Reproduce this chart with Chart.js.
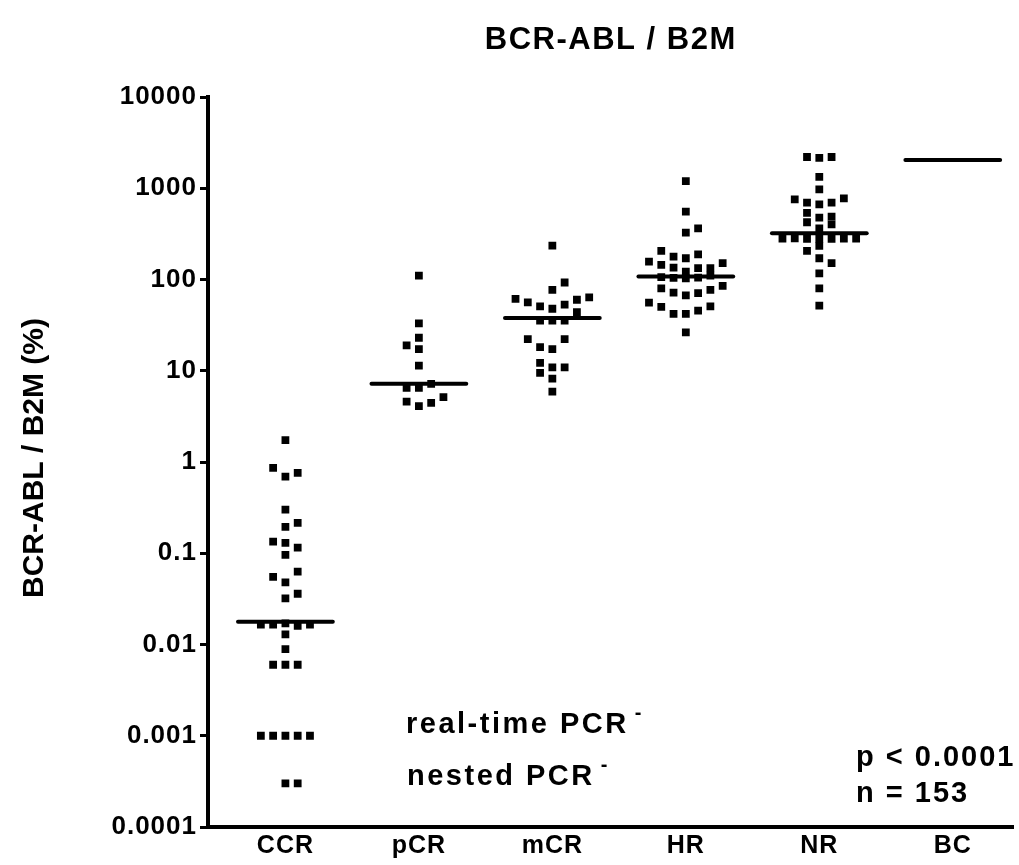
<!DOCTYPE html>
<html>
<head>
<meta charset="utf-8">
<script src="https://cdn.jsdelivr.net/npm/chart.js@4.4.1/dist/chart.umd.min.js"></script>
<style>
  html, body { margin: 0; padding: 0; background: #fff; }
</style>
</head>
<body>
<canvas id="myChart" width="1019" height="865"></canvas>
<script>
// categorias y ticks
const categories = ['CCR', 'pCR', 'mCR', 'HR', 'NR', 'BC'];
const yTicks = [0.0001, 0.001, 0.01, 0.1, 1, 10, 100, 1000, 10000];
const yTickLabels = ['0.0001', '0.001', '0.01', '0.1', '1', '10', '100', '1000', '10000'];

// valores (%), slot = columna del punto en su fila
const ccrValues = [1.74, 0.86, 0.69, 0.76, 0.30, 0.215, 0.195, 0.134, 0.13, 0.115, 0.096, 0.055, 0.063, 0.048, 0.032, 0.036,
  0.0165, 0.0165, 0.017, 0.016, 0.0165, 0.0129, 0.0089, 0.006, 0.006, 0.006];
const ccrSlots = [0, -1, 0, 1, 0, 1, 0, -1, 0, 1, 0, -1, 1, 0, 0, 1, -2, -1, 0, 1, 2, 0, 0, -1, 0, 1];

const realTimeNegValues = [0.001, 0.001, 0.001, 0.001, 0.001];
const realTimeNegSlots = [-2, -1, 0, 1, 2];
const nestedNegValues = [0.0003, 0.0003];
const nestedNegSlots = [0, 1];

const pcrValues = [110, 33, 23, 19, 17.3, 11.4, 6.5, 6.5, 7.2, 4.6, 4.1, 4.45, 5.13];
const pcrSlots = [0, 0, 0, -1, 0, 0, -1, 0, 1, -1, 0, 1, 2];

const mcrValues = [235, 92.7, 77, 61.5, 56, 50.7, 47.8, 52.9, 60, 63.6, 44, 35.5, 35.5, 35.5,
  22.2, 18.2, 17.3, 22.2, 12.2, 9.5, 10.9, 10.9, 8.2, 5.9];
const mcrSlots = [0, 1, 0, -3, -2, -1, 0, 1, 2, 3, 2, -1, 0, 1, -2, -1, 0, 1, -1, -1, 0, 1, 0, 0];

const hrValues = [1199, 553, 364, 326, 206, 178, 171, 189, 157, 145, 135, 122, 133, 133, 151,
  106, 104, 103, 105, 110, 80, 72, 67, 71, 77, 85, 55.7, 50, 42, 42, 45.5, 50.7, 26.3];
const hrSlots = [0, 0, 1, 0, -2, -1, 0, 1, -3, -2, -1, 0, 1, 2, 3,
  -2, -1, 0, 1, 2, -2, -1, 0, 1, 2, 3, -3, -2, -1, 0, 1, 2, 0];

const nrValues = [2200, 2150, 2200, 1336, 971, 755, 695, 666, 695, 774, 536, 476, 489, 402, 424, 364,
  280, 282, 278, 280, 279, 281, 280, 206, 234, 171, 151, 117, 80, 51.6];
const nrSlots = [-1, 0, 1, 0, 0, -2, -1, 0, 1, 2, -1, 0, 1, 1, -1, 0,
  -3, -2, -1, 0, 1, 2, 3, -1, 0, 0, 1, 0, 0, 0];

const medians = [0.0178, 7.2, 37.8, 108, 321, 2040];

// ajustes de dibujo
const SLOT = 0.092;
const HALF = 0.355;
const FONT = '"Liberation Sans", Arial, sans-serif';

function dots(cat, values, slots) {
  return {
    type: 'scatter',
    data: values.map((v, k) => ({ x: cat + slots[k] * SLOT, y: v })),
    pointStyle: 'rect',
    pointRadius: 5.5,
    pointBorderWidth: 0,
    backgroundColor: '#000',
    borderColor: '#000',
    order: 2
  };
}

const datasets = [
  dots(0, ccrValues, ccrSlots),
  dots(0, realTimeNegValues, realTimeNegSlots),
  dots(0, nestedNegValues, nestedNegSlots),
  dots(1, pcrValues, pcrSlots),
  dots(2, mcrValues, mcrSlots),
  dots(3, hrValues, hrSlots),
  dots(4, nrValues, nrSlots)
];

medians.forEach((m, i) => {
  datasets.push({
    type: 'line',
    data: [{ x: i - HALF, y: m }, { x: i + HALF, y: m }],
    borderColor: '#000',
    borderWidth: 4,
    borderCapStyle: 'round',
    pointRadius: 0,
    order: 1
  });
});

// textos del grafico
const textPlugin = {
  id: 'texts',
  beforeDraw(chart) {
    chart.ctx.letterSpacing = '1px';
  },
  afterDraw(chart) {
    const { ctx, chartArea, scales } = chart;
    ctx.save();
    ctx.fillStyle = '#000';

    ctx.letterSpacing = '1.5px';
    ctx.textAlign = 'center';
    ctx.textBaseline = 'middle';
    ctx.font = 'bold 31px ' + FONT;
    ctx.fillText('BCR-ABL / B2M', (chartArea.left + chartArea.right) / 2, 40);

    ctx.save();
    ctx.letterSpacing = '0px';
    ctx.translate(35, 458);
    ctx.rotate(-Math.PI / 2);
    ctx.font = 'bold 30px ' + FONT;
    ctx.fillText('BCR-ABL / B2M (%)', 0, 0);
    ctx.restore();

    ctx.letterSpacing = '2.5px';
    ctx.textAlign = 'left';
    ctx.textBaseline = 'alphabetic';
    ctx.font = 'bold 29px ' + FONT;
    const yRt = scales.y.getPixelForValue(0.001) - 3;
    const yNe = scales.y.getPixelForValue(0.0003) + 2;
    let w = ctx.measureText('real-time PCR').width;
    ctx.fillText('real-time PCR', 406, yRt);
    ctx.font = 'bold 20px ' + FONT;
    ctx.fillText('-', 406 + w + 6, yRt - 14);
    ctx.font = 'bold 29px ' + FONT;
    w = ctx.measureText('nested PCR').width;
    ctx.fillText('nested PCR', 407, yNe);
    ctx.font = 'bold 20px ' + FONT;
    ctx.fillText('-', 407 + w + 6, yNe - 14);

    ctx.letterSpacing = '2px';
    ctx.font = 'bold 29px ' + FONT;
    ctx.fillText('p < 0.0001', 856, 766);
    ctx.fillText('n = 153', 856, 802);
    ctx.restore();
  }
};

const config = {
  type: 'scatter',
  data: { datasets },
  options: {
    responsive: false,
    animation: false,
    layout: { padding: { top: 97, right: 2, left: 0, bottom: 0 } },
    plugins: { legend: { display: false }, tooltip: { enabled: false }, title: { display: false } },
    scales: {
      x: {
        type: 'linear',
        min: -0.58,
        max: 5.455,
        afterBuildTicks: s => { s.ticks = categories.map((c, i) => ({ value: i })); },
        afterFit: s => { s.height = 38; },
        ticks: {
          callback: (v, i) => categories[i],
          autoSkip: false,
          maxRotation: 0,
          padding: 4,
          color: '#000',
          font: { family: FONT, size: 25, weight: 'bold' }
        },
        grid: { display: false, drawTicks: false },
        border: { display: true, color: '#000', width: 4 }
      },
      y: {
        type: 'logarithmic',
        min: 0.0001,
        max: 10000,
        afterBuildTicks: s => { s.ticks = yTicks.map(v => ({ value: v })); },
        afterFit: s => { s.width = 208; },
        ticks: {
          callback: (v, i) => yTickLabels[i],
          autoSkip: false,
          padding: 3,
          color: '#000',
          font: { family: FONT, size: 26, weight: 'bold' }
        },
        grid: { drawOnChartArea: false, color: '#000', lineWidth: 3, tickLength: 8 },
        border: { display: true, color: '#000', width: 4 }
      }
    }
  },
  plugins: [textPlugin]
};

const myChart = new Chart(document.getElementById('myChart').getContext('2d'), config);
</script>
</body>
</html>
